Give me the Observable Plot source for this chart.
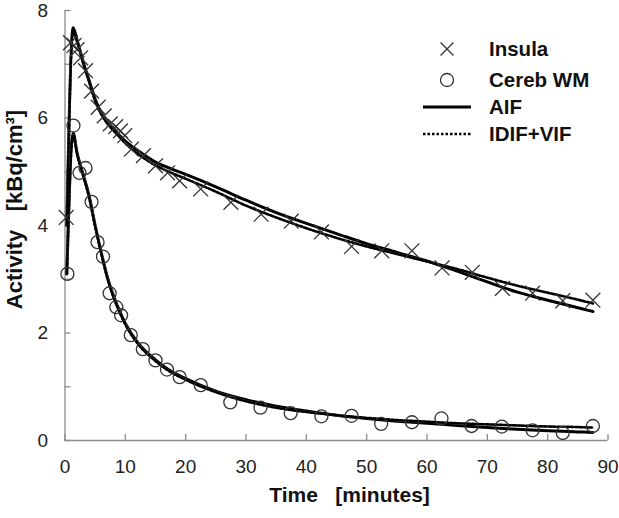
<!DOCTYPE html>
<html><head><meta charset="utf-8">
<script src="https://cdn.jsdelivr.net/npm/d3@7"></script>
<script src="https://cdn.jsdelivr.net/npm/@observablehq/plot@0.6"></script>
<style>
body{margin:0;background:#fff;}
#chart{position:relative;width:619px;height:518px;}
svg text{white-space:pre;}
</style></head><body><div id="chart"></div>
<script>
// ---- data ----
const insulaTime = [0.2, 0.9, 1.5, 2.0, 2.6, 3.4, 4.4, 5.5, 6.5, 7.5, 8.4, 9.2, 9.9, 11, 13, 15, 17, 19, 22.5, 27.5, 32.5, 37.5, 42.5, 47.5, 52.5, 57.5, 62.5, 67.5, 72.5, 77.5, 82.5, 87.5];
const insulaValue = [4.15, 7.4, 7.35, 7.27, 7.12, 6.88, 6.5, 6.2, 6.04, 5.89, 5.84, 5.76, 5.67, 5.42, 5.30, 5.11, 4.98, 4.83, 4.68, 4.43, 4.21, 4.08, 3.88, 3.61, 3.53, 3.53, 3.21, 3.13, 2.83, 2.74, 2.60, 2.61];

const cerebTime = [0.4, 1.4, 2.4, 3.4, 4.4, 5.4, 6.3, 7.4, 8.5, 9.3, 10.9, 12.9, 15, 16.9, 19, 22.5, 27.4, 32.4, 37.4, 42.5, 47.5, 52.4, 57.5, 62.4, 67.4, 72.4, 77.5, 82.5, 87.5];
const cerebValue = [3.1, 5.86, 4.98, 5.07, 4.44, 3.69, 3.42, 2.74, 2.48, 2.33, 1.96, 1.70, 1.49, 1.32, 1.18, 1.03, 0.71, 0.61, 0.51, 0.45, 0.46, 0.31, 0.34, 0.41, 0.27, 0.26, 0.19, 0.14, 0.27];

const fitTime = [0.3, 1.35, 2, 3, 4, 5, 6, 7, 8, 9, 10, 12, 15, 17, 20, 25, 30, 35, 40, 45, 50, 55, 60, 65, 70, 75, 80, 85, 87.5];
const insulaAIF  = [4.0, 7.68, 7.45, 7.05, 6.7, 6.35, 6.1, 5.92, 5.8, 5.68, 5.57, 5.4, 5.18, 5.08, 4.95, 4.72, 4.47, 4.24, 4.04, 3.85, 3.66, 3.5, 3.34, 3.15, 2.95, 2.76, 2.61, 2.47, 2.40];
const insulaIDIF = [4.0, 7.6, 7.42, 7.02, 6.67, 6.32, 6.07, 5.9, 5.77, 5.65, 5.53, 5.34, 5.12, 5.01, 4.87, 4.63, 4.37, 4.15, 3.95, 3.77, 3.61, 3.47, 3.33, 3.19, 3.03, 2.88, 2.75, 2.62, 2.55];
const cerebAIF   = [3.1, 5.72, 5.35, 4.95, 4.55, 4.0, 3.5, 3.05, 2.7, 2.42, 2.18, 1.83, 1.5, 1.33, 1.15, 0.92, 0.76, 0.64, 0.55, 0.47, 0.41, 0.36, 0.32, 0.28, 0.24, 0.21, 0.18, 0.16, 0.15];
const cerebIDIF  = [3.1, 5.68, 5.33, 4.93, 4.52, 3.98, 3.48, 3.03, 2.68, 2.4, 2.16, 1.81, 1.48, 1.31, 1.13, 0.9, 0.73, 0.61, 0.53, 0.47, 0.42, 0.38, 0.35, 0.32, 0.30, 0.28, 0.26, 0.25, 0.24];

const xTicks = [0, 10, 20, 30, 40, 50, 60, 70, 80, 90];
const yTicks = [0, 1, 2, 3, 4, 5, 6, 7, 8];
const yTickLabels = [0, 2, 4, 6, 8];
const legendLabels = ["Insula", "Cereb WM", "AIF", "IDIF+VIF"];
const xTitle = "Time   [minutes]";
const yTitle = "Activity   [kBq/cm³]";

// ---- build ----
const rows = (t, v) => t.map((d, i) => ({t: d, v: v[i]}));
const insula = rows(insulaTime, insulaValue);
const cereb = rows(cerebTime, cerebValue);
const fits = [insulaAIF, insulaIDIF, cerebAIF, cerebIDIF].map(v => rows(fitTime, v));

const axisGrey = "#8c8c8c";
const font = "'Liberation Sans', Arial, sans-serif";
const W = 619, H = 518, mL = 64.5, mR = 11.5, mT = 10, mB = 78;
const frameW = W - mL - mR, frameH = H - mT - mB, tickLen = 6;

const plot = Plot.plot({
  width: W, height: H,
  marginLeft: mL, marginRight: mR, marginTop: mT, marginBottom: mB,
  x: {domain: [0, 90], axis: null},
  y: {domain: [0, 8], axis: null},
  style: {fontFamily: font, fontSize: "19px", color: "#222", background: "white", overflow: "visible"},
  marks: [
    Plot.ruleY([0], {stroke: axisGrey, strokeWidth: 1.3}),
    Plot.ruleX([0], {stroke: axisGrey, strokeWidth: 1.3}),
    // inward tick marks
    Plot.tickX(xTicks, {x: d => d, insetTop: frameH - tickLen, stroke: axisGrey, strokeWidth: 1.3}),
    Plot.tickY(yTicks, {y: d => d, insetRight: frameW - tickLen, stroke: axisGrey, strokeWidth: 1.3}),
    // tick labels
    Plot.text(xTicks, {x: d => d, text: d => String(d), frameAnchor: "bottom", textAnchor: "middle", lineAnchor: "middle", dy: 26, fontSize: 19, fill: "#222"}),
    Plot.text(yTickLabels, {y: d => d, text: d => String(d), frameAnchor: "left", textAnchor: "end", lineAnchor: "middle", dx: -17, fontSize: 19, fill: "#222"}),
    // fitted curves
    Plot.line(fits[0], {x: "t", y: "v", stroke: "#000", strokeWidth: 3, curve: "monotone-x"}),
    Plot.line(fits[2], {x: "t", y: "v", stroke: "#000", strokeWidth: 3, curve: "monotone-x"}),
    Plot.line(fits[1], {x: "t", y: "v", stroke: "#b0b0b0", strokeWidth: 2.2, curve: "monotone-x"}),
    Plot.line(fits[3], {x: "t", y: "v", stroke: "#b0b0b0", strokeWidth: 2.2, curve: "monotone-x"}),
    Plot.line(fits[1], {x: "t", y: "v", stroke: "#000", strokeWidth: 2.6, strokeDasharray: "2.5,2", curve: "monotone-x"}),
    Plot.line(fits[3], {x: "t", y: "v", stroke: "#000", strokeWidth: 2.6, strokeDasharray: "2.5,2", curve: "monotone-x"}),
    // data points
    Plot.dot(insula, {x: "t", y: "v", symbol: "times", r: 6.8, stroke: "#333", strokeWidth: 1.3}),
    Plot.dot(cereb, {x: "t", y: "v", symbol: "circle", r: 6.5, stroke: "#333", strokeWidth: 1.3, fill: "none"}),
    // axis titles
    Plot.text([xTitle], {text: d => d, frameAnchor: "bottom", textAnchor: "middle", lineAnchor: "middle", dx: 13, dy: 55, fontWeight: "bold", fontSize: 21, fill: "#111"}),
    Plot.text([yTitle], {text: d => d, frameAnchor: "left", textAnchor: "middle", lineAnchor: "middle", rotate: -90, dx: -50, dy: -16, fontWeight: "bold", fontSize: 22, fill: "#111"})
  ]
});
document.getElementById("chart").appendChild(plot);

// ---- legend (inside the plot area, top right) ----
const svg = d3.select(plot);
const lg = svg.append("g").attr("font-family", font).attr("font-size", 20.5).attr("font-weight", "bold")
  .attr("fill", "#111").attr("text-anchor", "start");
const rowsY = [49, 80, 107, 134];
const symX = 447, textX = 489;
legendLabels.forEach((lab, i) => {
  const y = rowsY[i];
  if (i === 0) {
    lg.append("path").attr("d", d3.symbol(d3.symbolTimes, 110)()).attr("transform", `translate(${symX},${y})`)
      .attr("stroke", "#333").attr("stroke-width", 1.3).attr("fill", "none");
  } else if (i === 1) {
    lg.append("circle").attr("cx", symX).attr("cy", y).attr("r", 6.5).attr("stroke", "#333").attr("stroke-width", 1.3).attr("fill", "none");
  } else if (i === 2) {
    lg.append("line").attr("x1", 423).attr("x2", 471).attr("y1", y).attr("y2", y).attr("stroke", "#000").attr("stroke-width", 3);
  } else {
    lg.append("line").attr("x1", 423).attr("x2", 471).attr("y1", y).attr("y2", y).attr("stroke", "#000").attr("stroke-width", 2.6).attr("stroke-dasharray", "2.5,2");
  }
  lg.append("text").attr("x", textX).attr("y", y).attr("dy", "0.35em").attr("text-anchor", "start").text(lab);
});
</script></body></html>
